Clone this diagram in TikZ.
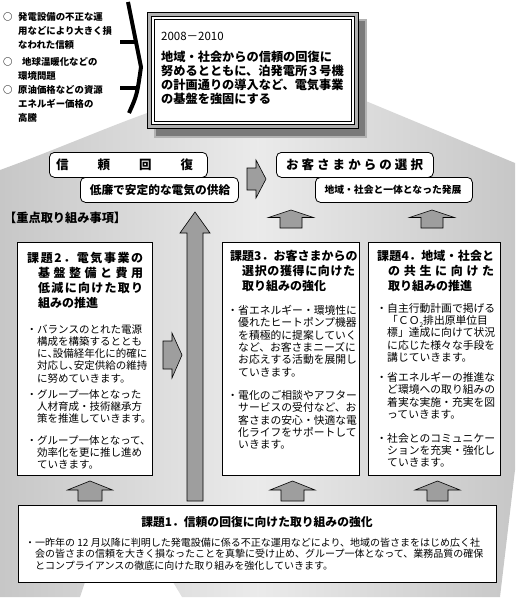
\documentclass[tikz,border=0pt]{standalone}
\usepackage{fontspec}
\setmainfont{Noto Sans CJK JP}
\def\jsp#1{\ifx#1\relax\unskip\else#1\hfil\expandafter\jsp\fi}
\newcommand\tten{\makebox[0.5em][l]{、}}
\newcommand\subtwo{\raisebox{-0.25em}{\fontsize{6.5}{6.5}\selectfont 2}}
\newcommand\blkup[6]{\filldraw[arr] (#1-#6,#4) -- (#1-#6,#3) -- (#1-#5,#3) -- (#1,#2) -- (#1+#5,#3) -- (#1+#6,#3) -- (#1+#6,#4) -- cycle;}
\begin{document}
\begin{tikzpicture}[x=1pt,y=-1pt,
  rbox/.style={draw=black, fill=white, rounded corners=5pt, line width=0.8pt, anchor=north west, inner sep=0pt},
  sqbox/.style={draw=black, fill=white, line width=0.9pt, anchor=north west, inner sep=0pt},
  arr/.style={fill=black!38, draw=black, line width=0.6pt, line join=miter},
  txt/.style={inner sep=0pt, anchor=north west, align=left},
  lst/.style={txt, font=\bfseries\fontsize{9.4}{13.7}\selectfont},
  ttl/.style={txt, font=\bfseries\fontsize{12}{15}\selectfont},
  bodyA/.style={txt, font=\fontsize{10.5}{12.2}\selectfont},
  bodyB/.style={txt, font=\fontsize{10.8}{12.3}\selectfont},
  lbl/.style={inner sep=0pt, font=\bfseries\fontsize{12.5}{14}\selectfont},
]
\useasboundingbox (0,0) rectangle (515,615);
% background house shape
\shade[left color=black!22, right color=black!22, middle color=black!8]
 (0,170) .. controls (55,150) and (105,128) .. (150,112) -- (255,55) -- (515,163)
 -- (515,470) -- (500,597) -- (182,597) -- (173,582) -- (85,582) -- (80,597) -- (0,597) -- cycle;

% left list
\node[lst] (b1) at (3,12.5) {○};
\node[lst] (i1) at (18,12.5) {発電設備の不正な運\\用などにより大きく損\\なわれた信頼};
\node[lst] (b2) at (3,57.5) {○};
\node[lst] (i2) at (18,57.5) {\hspace*{4pt}地球温暖化などの\\環境問題};
\node[lst] (b3) at (3,85.5) {○};
\node[lst] (i3) at (18,85.5) {原油価格などの資源\\エネルギー価格の\\高騰};

% brace
\draw[line width=4pt] (128,2) .. controls (135,35) .. (141,67) .. controls (137,95) .. (129,113);
\draw[line width=4.5pt] (120,42) -- (137,42);
\draw[line width=4.5pt] (120,88) -- (137,88);

% top goal box
\fill[black!52] (155,20) rectangle (366,137);
\draw[black!30, line width=1.2pt] (155,20) rectangle (366,137);
\node[sqbox, fill=black!30, minimum width=211pt, minimum height=116pt, line width=0.8pt] (goalframe) at (147,12) {};
\node[sqbox, minimum width=203pt, minimum height=108pt, line width=1pt] (goalbox) at (151,16) {};
\draw[line width=0.5pt] (154,19) rectangle (351,121);
\node[txt, font=\fontsize{11.5}{14}\selectfont] (yr) at (161,32) {2008－2010};
\node[txt, font=\bfseries\fontsize{12.2}{14}\selectfont] (goal) at (161,50.5)
 {地域・社会からの信頼の回復に\\努めるとともに、泊発電所３号機\\の計画通りの導入など、電気事業\\の基盤を強固にする};

% arrows
\blkup{195}{212}{233}{501}{15}{8}
\blkup{291}{210}{217.5}{228}{22.5}{11}
\blkup{432}{210}{217.5}{228}{22.5}{11}
\blkup{90}{481}{490}{501}{22.5}{12}
\blkup{292.5}{481}{490}{501}{22.5}{11.5}
\blkup{437.5}{481}{490}{501}{22.5}{10.5}
\filldraw[arr] (247,168) -- (256,168) -- (256,160) -- (266,179) -- (256,198) -- (256,190) -- (247,190) -- cycle;
\filldraw[arr] (163,341) -- (172,341) -- (172,333) -- (182,355) -- (172,378) -- (172,369) -- (163,369) -- cycle;

% rounded boxes
\node[rbox, minimum width=158pt, minimum height=25pt] (shinrai) at (49,152) {};
\node[lbl] (tshinrai) at (124.5,165) {\makebox[137pt][s]{信\hfil 頼\hfil 回\hfil 復}};
\node[rbox, minimum width=158pt, minimum height=25pt] (kyokyu) at (80,177) {};
\node[lbl, font=\bfseries\fontsize{11.7}{14}\selectfont] (tkyokyu) at (160,190) {低廉で安定的な電気の供給};
\node[rbox, minimum width=157pt, minimum height=25pt] (sentaku) at (276,152) {};
\node[lbl] (tsentaku) at (354.5,165) {\makebox[137pt][s]{\jsp お客さまからの選択\relax}};
\node[rbox, minimum width=157pt, minimum height=25pt] (hatten) at (315,177) {};
\node[lbl, font=\bfseries\fontsize{9.8}{12}\selectfont] (thatten) at (393,190) {地域・社会と一体となった発展};

\node[lbl, anchor=west, font=\bfseries\fontsize{12.2}{14}\selectfont] (juten) at (4,218) {【重点取り組み事項】};

% box 2
\node[sqbox, minimum width=135pt, minimum height=233pt] (box2) at (17,242) {};
\node[ttl] (t2) at (27,251.6) {\makebox[116pt][s]{\jsp 課題2．電気事業の\relax}\\
 \hspace*{11pt}\makebox[105pt][s]{\jsp 基盤整備と費用\relax}\\
 \hspace*{11pt}\makebox[105pt][s]{\jsp 低減に向けた取り\relax}\\
 \hspace*{11pt}組みの推進};
\node[bodyA] (p2a) at (37,324.3) {\llap{・}バランスのとれた電源\\構成を構築するととも\\に\tten 設備経年化に的確に\\対応し\tten 安定供給の維持\\に努めていきます。};
\node[bodyA] (p2b) at (37,389.3) {\llap{・}グループ一体となった\\人材育成・技術継承方\\策を推進していきます。};
\node[bodyA] (p2c) at (37,435.3) {\llap{・}グループ一体となって、\\効率化を更に推し進め\\ていきます。};

% box 3
\node[sqbox, minimum width=137pt, minimum height=233pt] (box3) at (222,242) {};
\node[ttl] (t3) at (230,249.6) {\makebox[126.6pt][s]{\jsp 課題3．お客さまからの\relax}\\
 \hspace*{12pt}\makebox[113pt][s]{\jsp 選択の獲得に向けた\relax}\\
 \hspace*{12pt}取り組みの強化};
\node[bodyB] (p3a) at (238,305.1) {\llap{・}省エネルギー・環境性に\\優れたヒートポンプ機器\\を積極的に提案していく\\など、お客さまニーズに\\お応えする活動を展開し\\ていきます。};
\node[bodyB] (p3b) at (238,390.1) {\llap{・}電化のご相談やアフター\\サービスの受付など、お\\客さまの安心・快適な電\\化ライフをサポートして\\いきます。};

% box 4
\node[sqbox, minimum width=132pt, minimum height=233pt] (box4) at (368,242) {};
\node[ttl] (t4) at (377,249.6) {\makebox[117pt][s]{\jsp 課題4．地域・社会と\relax}\\
 \hspace*{11pt}\makebox[106pt][s]{\jsp の共生に向けた\relax}\\
 \hspace*{11pt}取り組みの推進};
\node[bodyB] (p4a) at (387,303.1) {\llap{・}自主行動計画で掲げる\\「ＣＯ\subtwo 排出原単位目\\標」達成に向けて状況\\に応じた様々な手段を\\講じていきます。};
\node[bodyB] (p4b) at (387,372.1) {\llap{・}省エネルギーの推進な\\ど環境への取り組みの\\着実な実施・充実を図\\っていきます。};
\node[bodyB] (p4c) at (387,433.1) {\llap{・}社会とのコミュニケー\\ションを充実・強化し\\ていきます。};

% box 1
\node[sqbox, minimum width=478pt, minimum height=77pt] (box1) at (18,505) {};
\node[lbl, font=\bfseries\fontsize{11.8}{14}\selectfont] (t1) at (257,522) {課題1．信頼の回復に向けた取り組みの強化};
\node[txt, font=\fontsize{10}{11.5}\selectfont] (p1) at (35,537.5)
 {\llap{・}一昨年の 12 月以降に判明した発電設備に係る不正な運用などにより、地域の皆さまをはじめ広く社\\会の皆さまの信頼を大きく損なったことを真摯に受け止め、グループ一体となって、業務品質の確保\\とコンプライアンスの徹底に向けた取り組みを強化していきます。};
\end{tikzpicture}
\end{document}
